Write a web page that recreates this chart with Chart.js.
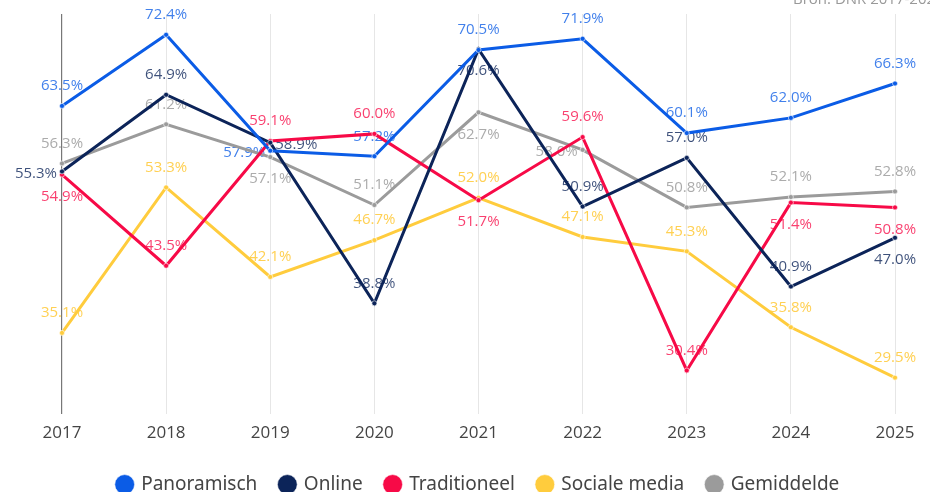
<!DOCTYPE html>
<html>
<head>
<meta charset="utf-8">
<script src="https://cdn.jsdelivr.net/npm/chart.js@4"></script>
<style>
  html, body { margin: 0; padding: 0; background: #fff; }
  #wrap { width: 930px; height: 492px; position: relative; }
</style>
</head>
<body>
<div id="wrap"><canvas id="grafico"></canvas></div>
<script>
const jaren = ['2017', '2018', '2019', '2020', '2021', '2022', '2023', '2024', '2025'];

const panoramisch = [63.5, 72.4, 57.9, 57.2, 70.5, 71.9, 60.1, 62.0, 66.3];
const online = [55.3, 64.9, 58.9, 38.8, 70.6, 50.9, 57.0, 40.9, 47.0];
const traditioneel = [54.9, 43.5, 59.1, 60.0, 51.7, 59.6, 30.4, 51.4, 50.8];
const socialeMedia = [35.1, 53.3, 42.1, 46.7, 52.0, 47.1, 45.3, 35.8, 29.5];
const gemiddelde = [56.3, 61.2, 57.1, 51.1, 62.7, 58.0, 50.8, 52.1, 52.8];

// plek van het label t.o.v. het punt: a = boven, b = onder, l = links, r = rechts
const labelPlek = {
  panoramisch: ['a', 'a', 'l', 'a', 'a', 'a', 'a', 'a', 'a'],
  online: ['l', 'a', 'r', 'a', 'b', 'a', 'a', 'a', 'b'],
  traditioneel: ['b', 'a', 'a', 'a', 'b', 'a', 'a', 'b', 'b'],
  socialeMedia: ['a', 'a', 'a', 'a', 'a', 'a', 'a', 'a', 'a'],
  gemiddelde: ['a', 'a', 'b', 'a', 'b', 'l', 'a', 'a', 'a']
};

const reeksen = [
  { label: 'Panoramisch', data: panoramisch, kleur: '#0b5ce6', tekst: 'rgba(11,92,230,0.78)', plek: labelPlek.panoramisch },
  { label: 'Online', data: online, kleur: '#0c2459', tekst: 'rgba(12,36,89,0.8)', plek: labelPlek.online },
  { label: 'Traditioneel', data: traditioneel, kleur: '#f70a47', tekst: 'rgba(247,10,71,0.78)', plek: labelPlek.traditioneel },
  { label: 'Sociale media', data: socialeMedia, kleur: '#ffcc3d', tekst: 'rgba(255,196,40,0.8)', plek: labelPlek.socialeMedia },
  { label: 'Gemiddelde', data: gemiddelde, kleur: '#9b9b9b', tekst: 'rgba(150,150,150,0.8)', plek: labelPlek.gemiddelde }
];

// labels onder de lijnen tekenen
const waardeLabels = {
  id: 'waardeLabels',
  beforeDatasetsDraw(chart) {
    const ctx = chart.ctx;
    ctx.save();
    ctx.font = '15px "Open Sans"';
    chart.data.datasets.forEach((ds, i) => {
      const meta = chart.getDatasetMeta(i);
      meta.data.forEach((pt, j) => {
        const tekst = ds.data[j].toFixed(1) + '%';
        const plek = ds.plek[j];
        ctx.fillStyle = ds.tekstKleur;
        ctx.textBaseline = 'middle';
        if (plek === 'a') {
          ctx.textAlign = 'center';
          ctx.fillText(tekst, pt.x, pt.y - 20);
        } else if (plek === 'b') {
          ctx.textAlign = 'center';
          ctx.fillText(tekst, pt.x, pt.y + 22);
        } else if (plek === 'l') {
          ctx.textAlign = 'right';
          ctx.fillText(tekst, pt.x - 5, pt.y + 2);
        } else {
          ctx.textAlign = 'left';
          ctx.fillText(tekst, pt.x + 5, pt.y + 2);
        }
      });
    });
    ctx.restore();
  },
  afterDraw(chart) {
    const ctx = chart.ctx;
    ctx.save();
    ctx.font = '15px "Open Sans"';
    ctx.fillStyle = '#999';
    ctx.textAlign = 'left';
    ctx.textBaseline = 'alphabetic';
    ctx.fillText('Bron: DNR 2017-2025', 793, 4);
    ctx.restore();
  }
};

const ctx = document.getElementById('grafico').getContext('2d');
new Chart(ctx, {
  type: 'line',
  data: {
    labels: jaren,
    datasets: reeksen.map(r => ({
      label: r.label,
      data: r.data,
      plek: r.plek,
      tekstKleur: r.tekst,
      borderColor: r.kleur,
      backgroundColor: r.kleur,
      borderWidth: 3,
      pointRadius: 2.5,
      pointBorderWidth: 1,
      pointBorderColor: 'rgba(255,255,255,0.6)',
      pointBackgroundColor: r.kleur,
      pointHoverRadius: 3,
      tension: 0,
      fill: false
    }))
  },
  options: {
    responsive: true,
    maintainAspectRatio: false,
    animation: false,
    layout: { padding: { left: 62, right: 35, top: 14, bottom: -12 } },
    scales: {
      x: {
        offset: false,
        border: { display: false },
        grid: {
          drawTicks: false,
          color: c => c.index === 0 ? '#777777' : '#e6e6e6',
          lineWidth: c => c.index === 0 ? 1.2 : 1
        },
        ticks: { color: '#444', font: { size: 17, family: 'Open Sans' }, padding: 9 }
      },
      y: {
        display: false,
        min: 25,
        max: 75
      }
    },
    plugins: {
      legend: {
        position: 'bottom',
        labels: {
          usePointStyle: true,
          pointStyle: 'circle',
          boxWidth: 14,
          boxHeight: 14,
          padding: 23,
          color: '#444',
          font: { size: 19, family: 'Noto Sans' }
        }
      },
      title: { display: false },
      tooltip: { enabled: false }
    }
  },
  plugins: [waardeLabels]
});
</script>
</body>
</html>
